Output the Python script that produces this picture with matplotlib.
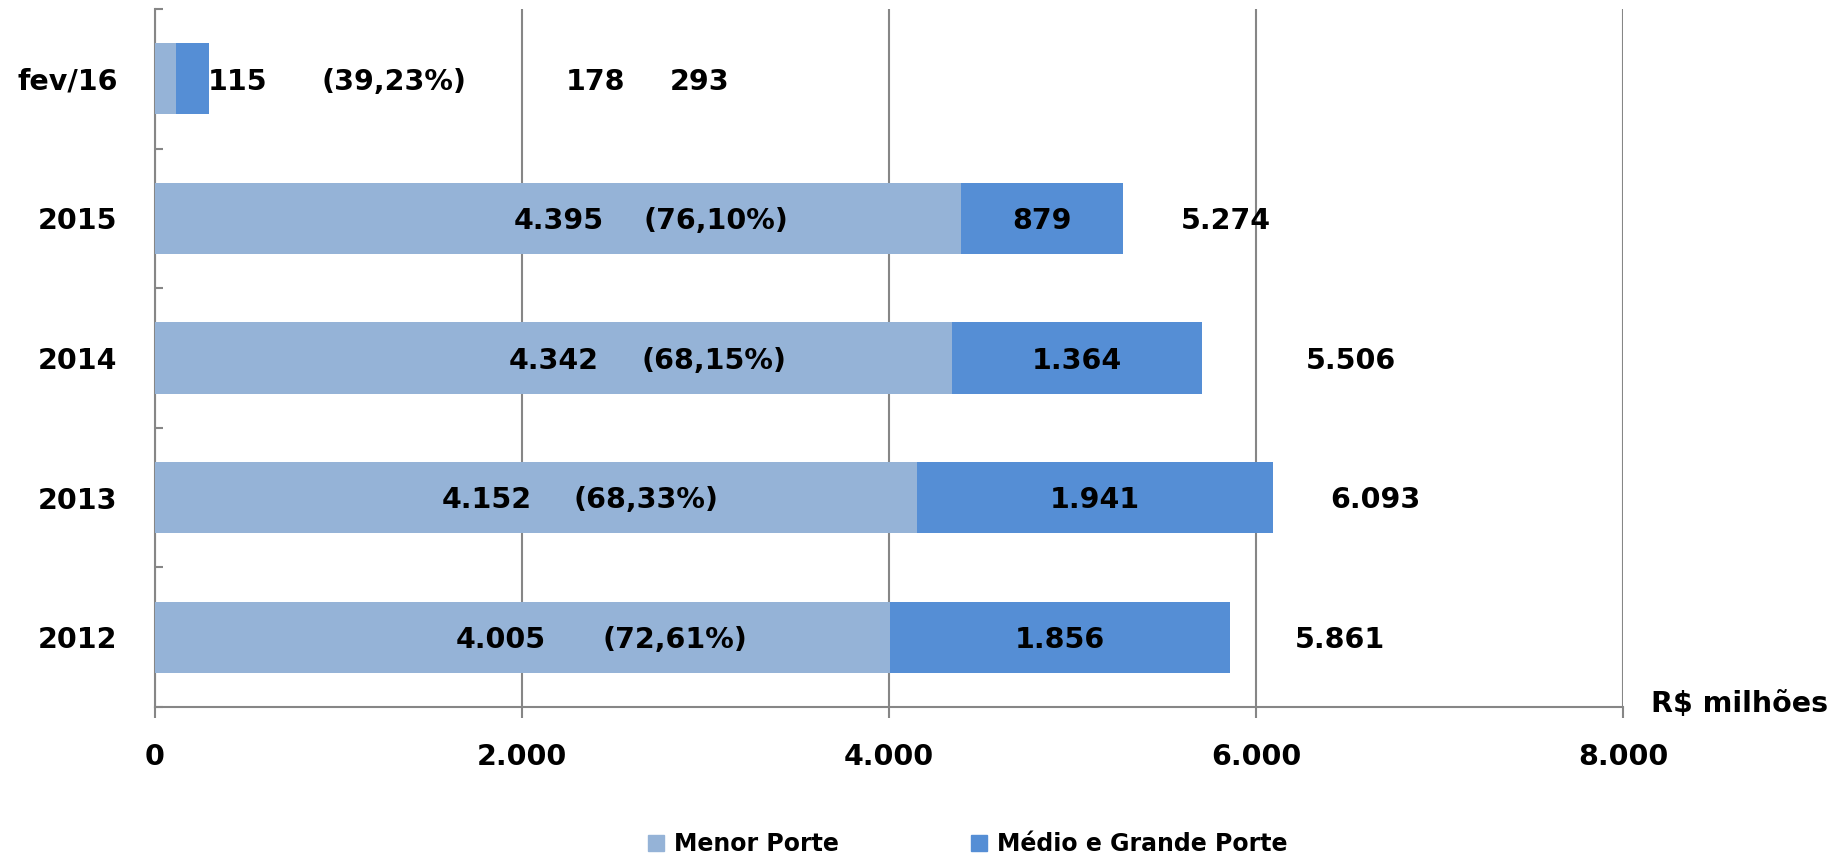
import matplotlib
matplotlib.use('Agg')
import matplotlib.pyplot as plt
from matplotlib.patches import Patch
import numpy as np

# ================== DADOS ==================
categorias = ['2012', '2013', '2014', '2015', 'fev/16']
menor_porte = [4005, 4152, 4342, 4395, 115]
medio_grande = [1856, 1941, 1364, 879, 178]
totais = [5861, 6093, 5506, 5274, 293]
percentuais = ['(72,61%)', '(68,33%)', '(68,15%)', '(76,10%)', '(39,23%)']
x_ticks = [0, 2000, 4000, 6000, 8000]

# posicoes dos rotulos (em R$ milhoes)
pos_menor = [1886, 1806, 2170, 2202, 451]
pos_pct = [2833, 2678, 3048, 3057, 1302]
pos_total = [6458, 6653, 6517, 5837, 2965]
pos_medio_fev = 2403

COR_MENOR = '#95B3D7'
COR_MEDIO = '#558ED5'
CINZA = '#868686'

def fmt(v):
    return f'{v:,}'.replace(',', '.')

plt.rcParams['font.family'] = ['DejaVu Sans']
plt.rcParams['font.weight'] = 'bold'

fig = plt.figure(figsize=(18.39, 8.59), dpi=100)
ax = fig.add_axes([0.0843, 0.177, 0.7982, 0.8126])

y = np.arange(len(categorias))
ax.barh(y, menor_porte, height=0.51, color=COR_MENOR, zorder=3)
ax.barh(y, medio_grande, left=menor_porte, height=0.51, color=COR_MEDIO, zorder=3)

fs = 20.5
for i in range(len(categorias)):
    if categorias[i] == 'fev/16':
        xm = pos_medio_fev
    else:
        xm = menor_porte[i] + medio_grande[i] / 2
    yt = y[i] - 0.02
    ax.text(pos_menor[i], yt, fmt(menor_porte[i]), ha='center', va='center',
            fontsize=fs, fontweight='bold', zorder=4)
    ax.text(pos_pct[i], yt, percentuais[i], ha='center', va='center',
            fontsize=fs, fontweight='bold', zorder=4)
    ax.text(xm, yt, fmt(medio_grande[i]), ha='center', va='center',
            fontsize=fs, fontweight='bold', zorder=4)
    ax.text(pos_total[i], yt, fmt(totais[i]), ha='center', va='center',
            fontsize=fs, fontweight='bold', zorder=4)

ax.set_xlim(0, 8000)
ax.set_ylim(-0.5, len(categorias) - 0.5)

ax.set_xticks(x_ticks)
ax.set_xticklabels([fmt(v) for v in x_ticks])
ax.tick_params(axis='x', direction='out', length=8, width=1.5, color=CINZA,
               labelsize=fs, pad=18)
ax.xaxis.grid(True, color=CINZA, linewidth=1.5, zorder=0)

ax.set_yticks(y)
ax.set_yticklabels(categorias)
ax.set_yticks(np.arange(-0.5, len(categorias)), minor=True)
ax.tick_params(axis='y', which='major', length=0, labelsize=fs, pad=27)
ax.tick_params(axis='y', which='minor', direction='in', length=6, width=1.5, color=CINZA)

for lado in ['top', 'right']:
    ax.spines[lado].set_visible(False)
for lado in ['left', 'bottom']:
    ax.spines[lado].set_color(CINZA)
    ax.spines[lado].set_linewidth(1.5)

fig.text(1651 / 1839, 1 - 704 / 859, 'R$ milhões', ha='left', va='center',
         fontsize=fs, fontweight='bold')

handles = [Patch(color=COR_MENOR, label='Menor Porte'),
           Patch(color=COR_MEDIO, label='Médio e Grande Porte')]
fig.legend(handles=handles, loc='center', bbox_to_anchor=(0.526, 0.017), ncol=2,
           frameon=False, fontsize=17, handlelength=0.7, handleheight=0.7,
           handletextpad=0.4, columnspacing=5.6, borderaxespad=0)

fig.savefig('out.png', dpi=100)
